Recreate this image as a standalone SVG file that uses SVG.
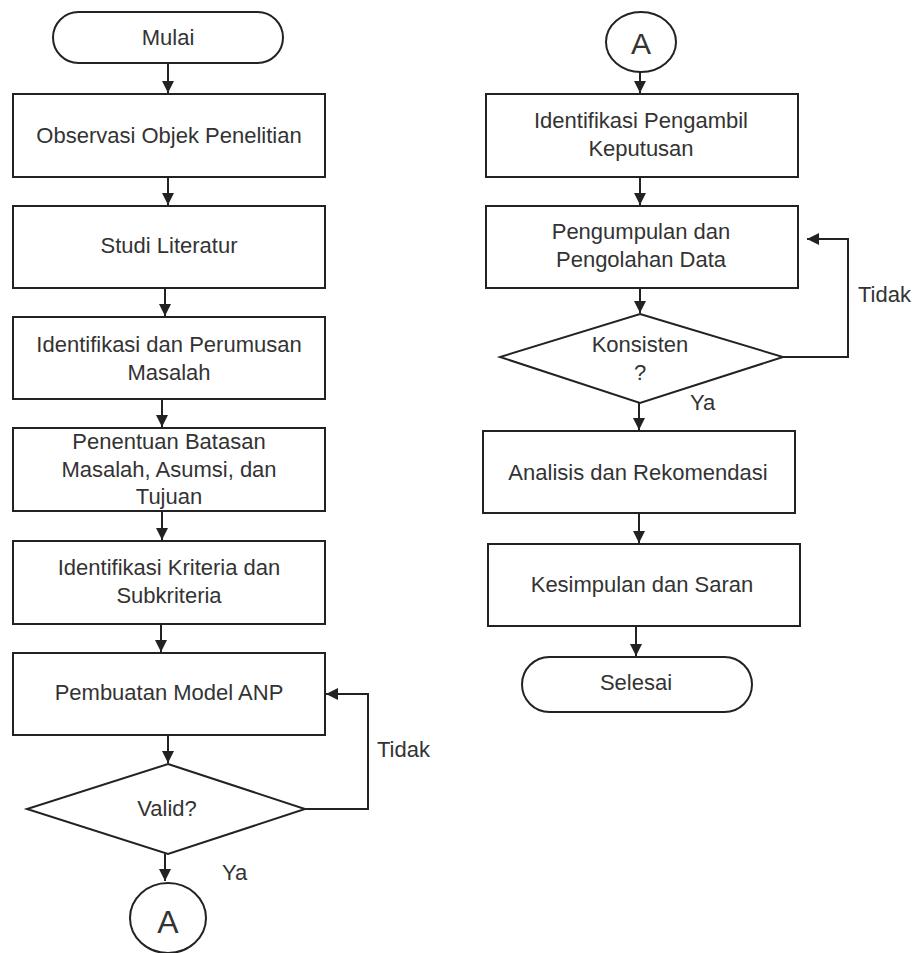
<svg xmlns="http://www.w3.org/2000/svg" width="915" height="953" viewBox="0 0 915 953">
<style>
.s{fill:#fff;stroke:#222;stroke-width:2}
.t{font-family:"Liberation Sans",Arial,sans-serif;font-size:22px;fill:#333;text-anchor:middle}
.l{font-family:"Liberation Sans",Arial,sans-serif;font-size:22px;fill:#333}
.c{fill:none;stroke:#222;stroke-width:2}
</style>
<defs>
<marker id="ah" markerUnits="userSpaceOnUse" markerWidth="12" markerHeight="12" viewBox="0 0 12 12" refX="12" refY="6" orient="auto">
<path d="M0,0 L12,6 L0,12 Z" fill="#222"/>
</marker>
</defs>
<rect width="915" height="953" fill="#fff"/>
<g id="connectors">
<line class="c" x1="168" y1="63" x2="168" y2="93" marker-end="url(#ah)"/>
<line class="c" x1="168" y1="177" x2="168" y2="205" marker-end="url(#ah)"/>
<line class="c" x1="165" y1="288" x2="165" y2="316" marker-end="url(#ah)"/>
<line class="c" x1="162" y1="399" x2="162" y2="427" marker-end="url(#ah)"/>
<line class="c" x1="162" y1="511" x2="162" y2="540" marker-end="url(#ah)"/>
<line class="c" x1="161" y1="624" x2="161" y2="652" marker-end="url(#ah)"/>
<line class="c" x1="168" y1="735" x2="168" y2="763" marker-end="url(#ah)"/>
<line class="c" x1="165" y1="854" x2="165" y2="881" marker-end="url(#ah)"/>
<polyline class="c" points="305,809 368,809 368,694 326,694" marker-end="url(#ah)"/>
<line class="c" x1="640" y1="72" x2="640" y2="93" marker-end="url(#ah)"/>
<line class="c" x1="640" y1="177" x2="640" y2="205" marker-end="url(#ah)"/>
<line class="c" x1="640" y1="288" x2="640" y2="313" marker-end="url(#ah)"/>
<line class="c" x1="639" y1="403" x2="639" y2="430" marker-end="url(#ah)"/>
<line class="c" x1="639" y1="513" x2="639" y2="543" marker-end="url(#ah)"/>
<line class="c" x1="636" y1="626" x2="636" y2="656" marker-end="url(#ah)"/>
<polyline class="c" points="783,357 848,357 848,239 807,239" marker-end="url(#ah)"/>
<text class="l" x="377" y="757">Tidak</text>
<text class="l" x="222" y="880">Ya</text>
<text class="l" x="858" y="302">Tidak</text>
<text class="l" x="690" y="410">Ya</text>
</g>
<g id="mulai">
<rect class="s" x="53" y="12" width="230" height="51" rx="25.5" ry="25.5"/>
<text class="t" x="168" y="45">Mulai</text>
</g>
<g id="observasi">
<rect class="s" x="13" y="94" width="312" height="83"/>
<text class="t" x="169" y="143">Observasi Objek Penelitian</text>
</g>
<g id="studi">
<rect class="s" x="13" y="206" width="312" height="82"/>
<text class="t" x="169" y="253">Studi Literatur</text>
</g>
<g id="identifikasi-masalah">
<rect class="s" x="13" y="317" width="312" height="82"/>
<text class="t" x="169" y="352">Identifikasi dan Perumusan</text>
<text class="t" x="169" y="380">Masalah</text>
</g>
<g id="batasan">
<rect class="s" x="13" y="428" width="312" height="83"/>
<text class="t" x="169" y="449">Penentuan Batasan</text>
<text class="t" x="169" y="477">Masalah, Asumsi, dan</text>
<text class="t" x="169" y="504">Tujuan</text>
</g>
<g id="kriteria">
<rect class="s" x="13" y="541" width="312" height="83"/>
<text class="t" x="169" y="575">Identifikasi Kriteria dan</text>
<text class="t" x="169" y="603">Subkriteria</text>
</g>
<g id="model">
<rect class="s" x="13" y="653" width="312" height="82"/>
<text class="t" x="169" y="700">Pembuatan Model ANP</text>
</g>
<g id="valid">
<polygon class="s" points="168,764 305,809 168,854 27,809"/>
<text class="t" x="167" y="816">Valid?</text>
</g>
<g id="a-left">
<ellipse class="s" cx="168" cy="918" rx="38" ry="35"/>
<text class="t" x="168" y="933" style="font-size:32px">A</text>
</g>
<g id="a-right">
<ellipse class="s" cx="641" cy="42" rx="35" ry="30"/>
<text class="t" x="641" y="54" style="font-size:30px">A</text>
</g>
<g id="pengambil">
<rect class="s" x="486" y="94" width="312" height="83"/>
<text class="t" x="641" y="128">Identifikasi Pengambil</text>
<text class="t" x="641" y="156">Keputusan</text>
</g>
<g id="pengumpulan">
<rect class="s" x="486" y="206" width="312" height="82"/>
<text class="t" x="641" y="239">Pengumpulan dan</text>
<text class="t" x="641" y="267">Pengolahan Data</text>
</g>
<g id="konsisten">
<polygon class="s" points="640,314 783,357 640,403 500,357"/>
<text class="t" x="640" y="352">Konsisten</text>
<text class="t" x="640" y="380">?</text>
</g>
<g id="analisis">
<rect class="s" x="483" y="431" width="312" height="82"/>
<text class="t" x="638" y="480">Analisis dan Rekomendasi</text>
</g>
<g id="kesimpulan">
<rect class="s" x="488" y="544" width="312" height="82"/>
<text class="t" x="642" y="592">Kesimpulan dan Saran</text>
</g>
<g id="selesai">
<rect class="s" x="522" y="657" width="230" height="55" rx="27.5" ry="27.5"/>
<text class="t" x="636" y="690">Selesai</text>
</g>
</svg>
